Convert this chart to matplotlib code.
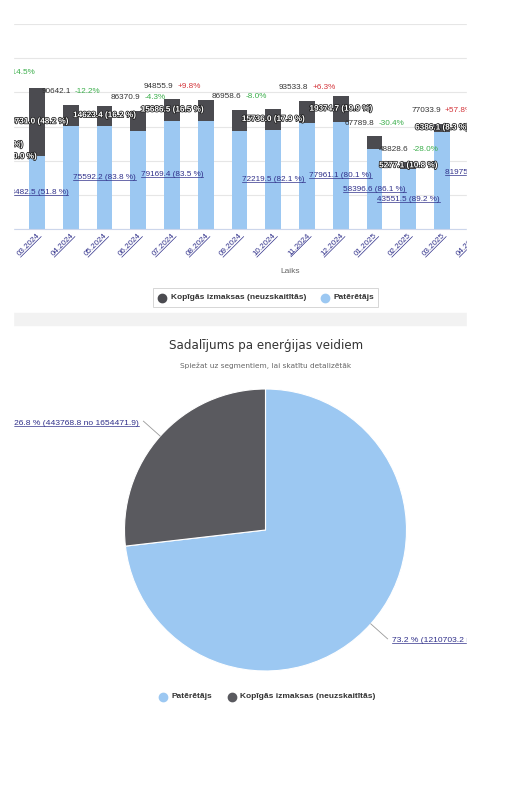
import numpy as np
import matplotlib
matplotlib.use("Agg")
import matplotlib.pyplot as plt
import matplotlib.patheffects as pe
from matplotlib.lines import Line2D
from matplotlib.patches import Rectangle
from matplotlib.transforms import IdentityTransform

plt.rcParams['font.family'] = ['Liberation Sans', 'DejaVu Sans']

W, H = 520, 796

# ---------------- data ----------------
months = ['02.2024', '03.2024', '04.2024', '05.2024', '06.2024', '07.2024', '08.2024',
          '09.2024', '10.2024', '11.2024', '12.2024', '01.2025', '02.2025', '03.2025', '04.2025']
consumer = [52700.0, 53482.5, 75230.5, 75592.2, 71480.3, 79169.4, 78850.7,
            71512.4, 72219.5, 77402.1, 77961.1, 58396.6, 43551.5, 70647.8, 81975.4]
shared = [51900.0, 49731.0, 15411.6, 14623.4, 14890.6, 15686.5, 15669.5,
          15446.2, 15736.0, 16131.7, 19374.7, 9393.2, 5277.1, 6386.1, 7517.0]
total_before = 122339.2  # 01.2024 total, for the first change label

# which labels are visible (the rest are hidden as overlapping)
show_total = [0, 2, 4, 5, 7, 9, 11, 12, 13]
show_shared = [1, 3, 5, 8, 10, 12, 13]
show_consumer = [1, 3, 5, 8, 10, 11, 12, 14]

pie_names = ['Patērētājs', 'Kopīgās izmaksas (neuzskaitītās)']
pie_vals = [1210703.2, 443768.8]
pie_total = 1654471.9

series_names = ['Kopīgās izmaksas (neuzskaitītās)', 'Patērētājs']

BLUE = '#9cc8f2'
DARK = '#4b4b50'
PIE_DARK = '#5a5a5f'
LINK = '#30308a'
GREEN = '#3aae4a'
RED = '#d4343a'
FS = 5.9


def fx(px):
    return px / W


def fy(py):
    return 1 - py / H


fig = plt.figure(figsize=(W / 100, H / 100), dpi=100)
fig.patch.set_facecolor('white')

# ---------------- stacked columns ----------------
ax = fig.add_axes([fx(13), fy(229), (467 - 13) / W, (229 - 24) / H])
x = np.arange(len(months))
cons = np.array(consumer)
shr = np.array(shared)
tot = cons + shr

ax.bar(x, cons, width=0.47, color=BLUE, zorder=2)
ax.bar(x, shr, bottom=cons, width=0.47, color=DARK, zorder=2)
ax.set_xlim(0.289, 13.74)
ax.set_ylim(0, 150000)
ax.set_yticks(np.arange(0, 150001, 25000))
ax.yaxis.grid(True, color='#e6e6e6', lw=0.8, zorder=0)
ax.set_axisbelow(True)
ax.tick_params(left=False, labelleft=False, bottom=False, labelbottom=False)
for s in ['left', 'right', 'top']:
    ax.spines[s].set_visible(False)
ax.spines['bottom'].set_color('#ccd6eb')
ax.spines['bottom'].set_linewidth(0.8)

# month labels (rotated links)
TICK_OFF = (1.5, -4)
ticks = []
for i, m in enumerate(months):
    t = ax.annotate(m, xy=(i, 0), xycoords=('data', 'axes fraction'), xytext=TICK_OFF,
                    textcoords='offset points', rotation=45, ha='right', va='center',
                    rotation_mode='anchor', fontsize=5.8, color=LINK, annotation_clip=False)
    ticks.append((i, m, t))

fig.text(fx(290), fy(272), 'Laiks', ha='center', va='center', fontsize=6, color='#666666')

# total labels (value + coloured change)
prev = np.concatenate([[total_before], tot[:-1]])
pairs = []
for i in show_total:
    chg = (tot[i] / prev[i] - 1) * 100
    t1 = ax.annotate(f'{tot[i]:.1f}', xy=(i, tot[i]), xytext=(0, 9.5),
                     textcoords='offset points', ha='left', va='center',
                     fontsize=FS, color='#333333', annotation_clip=False)
    t2 = ax.annotate(f'{chg:+.1f}%', xy=(i, tot[i]), xytext=(0, 9.5),
                     textcoords='offset points', ha='left', va='center',
                     fontsize=FS, color=GREEN if chg < 0 else RED, annotation_clip=False)
    pairs.append((t1, t2))

outline = [pe.Stroke(linewidth=1.1, foreground='#1e1e1e'), pe.Normal()]
for i in show_shared:
    ax.annotate(f'{shr[i]:.1f} ({shr[i] / tot[i] * 100:.1f} %)', xy=(i, cons[i] + shr[i] / 2),
                ha='center', va='center', fontsize=FS, fontweight='bold', color='white',
                path_effects=outline, annotation_clip=False, zorder=5)

underlined = []
for i in show_consumer:
    t = ax.annotate(f'{cons[i]:.1f} ({cons[i] / tot[i] * 100:.1f} %)', xy=(i, cons[i] / 2),
                    ha='center', va='center', fontsize=FS, color=LINK,
                    annotation_clip=False, zorder=5)
    underlined.append(t)

# stray labels of the cut-off first column
ax.annotate(f'{cons[0]:.1f} (100.0 %)', xy=(0, cons[0]), ha='center', va='center',
            fontsize=FS, fontweight='bold', color='white', path_effects=outline,
            annotation_clip=False, zorder=5)
ax.annotate('0.0 (0.0 %)', xy=(0, cons[0]), xytext=(0, 8.5), textcoords='offset points',
            ha='center', va='center', fontsize=FS, fontweight='bold', color='white',
            path_effects=outline, annotation_clip=False, zorder=5)


def legend_item(xc, y, color, label, xt):
    fig.add_artist(Line2D([fx(xc)], [fy(y)], marker='o', ms=6, color=color, lw=0,
                          transform=fig.transFigure))
    fig.text(fx(xt), fy(y), label, ha='left', va='center', fontsize=6,
             color='#333333', fontweight='bold')


fig.add_artist(Rectangle((fx(153), fy(307)), (378 - 153) / W, (307 - 288) / H,
                         transform=fig.transFigure, facecolor='white',
                         edgecolor='#d0d0d0', lw=0.6))
legend_item(162, 297.5, DARK, series_names[0], 171)
legend_item(325, 297.5, BLUE, series_names[1], 334)

# gap between the two cards
fig.add_artist(Rectangle((fx(13), fy(325)), (467 - 13) / W, 12 / H,
                         transform=fig.transFigure, color='#f2f2f2', zorder=1))

# ---------------- pie ----------------
fig.text(fx(266), fy(345), 'Sadalījums pa enerģijas veidiem', ha='center', va='center',
         fontsize=8.6, color='#333333', family=['DejaVu Sans'])
fig.text(fx(266), fy(366), 'Spiežat uz segmentiem, lai skatītu detalizētāk', ha='center',
         va='center', fontsize=5.3, color='#666666', family=['DejaVu Sans'])

axp = fig.add_axes([fx(124.5), fy(671), 282 / W, 282 / H])
wedges, _ = axp.pie(pie_vals, colors=[BLUE, PIE_DARK], startangle=90, counterclock=False,
                    radius=1, wedgeprops=dict(edgecolor='white', linewidth=0.8))
axp.set_xlim(-1, 1)
axp.set_ylim(-1, 1)
axp.axis('off')

for w, v in zip(wedges, pie_vals):
    ang = np.deg2rad((w.theta1 + w.theta2) / 2)
    ca, sa = np.cos(ang), np.sin(ang)
    rr = 1.16
    axp.plot([ca, rr * ca], [sa, rr * sa], color='#999999', lw=0.6, clip_on=False)
    side = 1 if ca > 0 else -1
    t = axp.annotate(f'{v / pie_total * 100:.1f} % ({v:.1f} no {pie_total:.1f})',
                     xy=(rr * ca, rr * sa), xytext=(side * 3.5, -1.5),
                     textcoords='offset points', ha='left' if side > 0 else 'right',
                     va='center', fontsize=6.1, color=LINK, annotation_clip=False)
    underlined.append(t)

legend_item(163, 697, BLUE, pie_names[0], 172)
legend_item(232, 697, PIE_DARK, pie_names[1], 240)

# ---------------- positioning of two-colour labels and underlines ----------------
fig.canvas.draw()
r = fig.canvas.get_renderer()
k = 72 / fig.dpi
for t1, t2 in pairs:
    w1 = t1.get_window_extent(r).width
    w2 = t2.get_window_extent(r).width
    gap = 4.0
    full = w1 + gap + w2
    t1.xyann = (-full / 2 * k, t1.xyann[1])
    t2.xyann = ((-full / 2 + w1 + gap) * k, t2.xyann[1])

for t in underlined:
    bb = t.get_window_extent(r)
    fig.add_artist(Line2D([bb.x0, bb.x1], [bb.y0 + 1.0, bb.y0 + 1.0], color=LINK, lw=0.5,
                          transform=IdentityTransform(), zorder=6))

# underline the rotated month labels along their baseline
u = np.array([np.cos(np.pi / 4), np.sin(np.pi / 4)])
v = np.array([-np.sin(np.pi / 4), np.cos(np.pi / 4)])
for i, m, t in ticks:
    probe = fig.text(0, 0, m, fontsize=5.8)
    pb = probe.get_window_extent(r)
    probe.remove()
    a = ax.get_xaxis_transform().transform((i, 0)) + np.array(TICK_OFF) / k
    p0 = a - (pb.height / 2 - 0.6) * v
    p1 = p0 - pb.width * u
    fig.add_artist(Line2D([p0[0], p1[0]], [p0[1], p1[1]], color=LINK, lw=0.5,
                          transform=IdentityTransform(), zorder=6))

# crop like the screenshot
fig.add_artist(Rectangle((0, 0), fx(13), 1, transform=fig.transFigure, color='white', zorder=100))
fig.add_artist(Rectangle((fx(467), 0), 1 - fx(467), 1, transform=fig.transFigure,
                         color='white', zorder=100))

fig.savefig('out.png', dpi=100, facecolor='white')
